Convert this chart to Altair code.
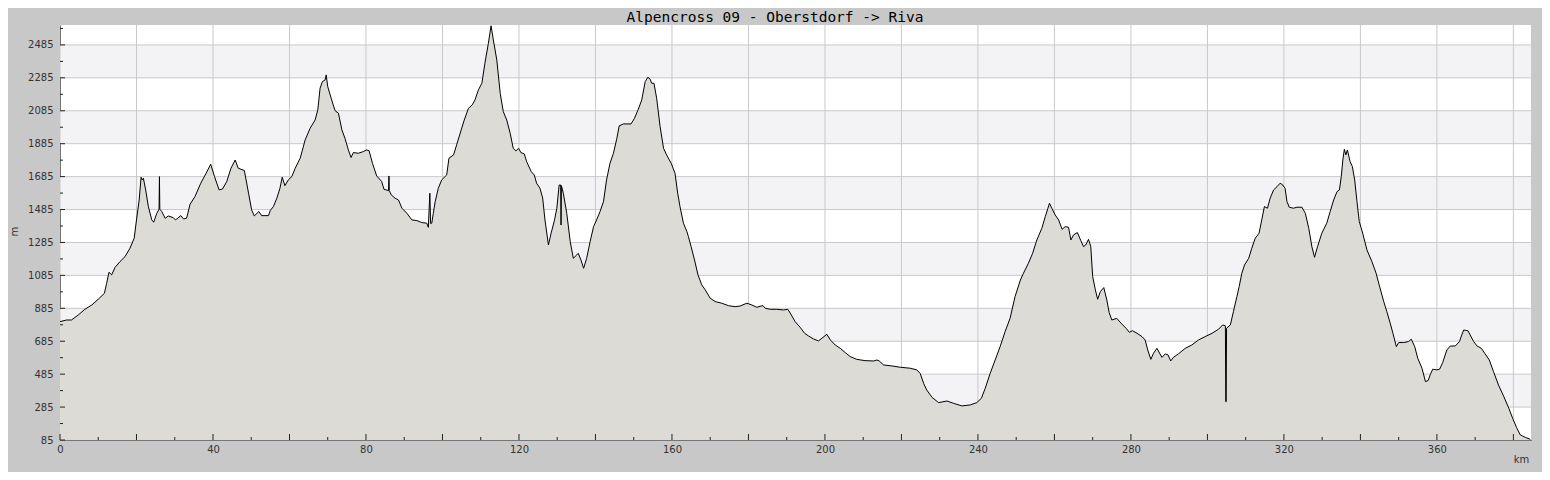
import altair as alt
import pandas as pd

TITLE = "Alpencross 09 - Oberstdorf -> Riva"

km = [0.0, 1.7, 3.0, 4.8, 6.5, 8.3, 10.0, 11.6, 12.2, 12.8, 13.5, 14.4, 15.7, 17.0, 18.3, 19.4,
      20.0, 20.7, 21.2, 21.5, 21.8, 22.4, 23.1, 24.0, 24.5, 25.3, 25.9, 26.0, 26.1, 26.6, 27.5,
      28.3, 29.6, 30.2, 31.6, 32.3, 33.1, 34.0, 35.3, 36.8, 38.1, 39.4, 40.4, 41.6, 42.5, 43.6,
      44.7, 45.8, 46.6, 48.2, 49.3, 50.1, 50.8, 52.0, 52.7, 54.5, 55.0, 55.8, 56.7, 57.5, 58.1,
      58.8, 59.7, 60.6, 61.5, 62.8, 64.1, 65.4, 66.7, 67.4, 68.0, 68.6, 69.3, 69.6, 70.0, 70.9,
      71.9, 72.8, 73.7, 74.5, 75.4, 76.1, 76.7, 78.0, 79.3, 80.2, 80.8, 81.7, 82.8, 84.1, 84.7,
      85.9, 86.0, 86.1, 86.6, 87.6, 88.5, 89.4, 90.7, 92.0, 93.3, 94.6, 95.9, 96.3, 96.7, 96.9,
      97.2, 97.6, 98.1, 98.9, 99.8, 101.1, 101.7, 102.9, 103.7, 104.9, 105.7, 106.8, 107.8,
      108.5, 109.4, 110.3, 111.1, 112.0, 112.7, 113.3, 114.2, 115.1, 115.9, 116.8, 117.7, 118.5,
      119.2, 119.9, 120.5, 121.4, 122.0, 123.2, 124.0, 124.6, 125.5, 126.2, 126.8, 127.7, 128.4,
      129.3, 129.9, 130.5, 130.9, 131.0, 131.1, 131.6, 132.5, 133.4, 134.2, 135.1, 135.5, 136.2,
      136.9, 137.7, 138.6, 139.5, 140.3, 141.2, 142.1, 142.9, 143.8, 144.7, 145.6, 146.2, 147.3,
      149.3, 150.2, 151.2, 152.1, 153.0, 153.7, 154.3, 154.7, 155.3, 156.0, 156.9, 157.8, 158.6,
      159.8, 160.8, 161.5, 162.1, 163.0, 163.9, 164.3, 165.0, 165.9, 166.8, 167.8, 168.7, 170.0,
      171.3, 173.0, 174.8, 176.5, 177.8, 179.6, 180.9, 182.2, 183.3, 183.8, 184.4, 185.7, 187.4,
      189.2, 190.3, 191.2, 192.2, 193.5, 194.7, 195.7, 197.0, 198.3, 199.2, 200.5, 201.4, 202.7,
      204.0, 205.3, 206.6, 208.3, 210.5, 212.7, 213.6, 214.2, 215.3, 217.5, 219.7, 222.3, 224.0,
      224.9, 225.8, 226.6, 228.0, 229.7, 231.9, 233.6, 235.8, 238.0, 239.7, 240.9, 241.9, 243.2,
      244.5, 245.8, 247.1, 248.4, 249.7, 251.1, 251.9, 253.2, 254.3, 255.4, 256.7, 257.6, 258.3,
      258.7, 259.3, 260.2, 261.1, 262.0, 262.8, 263.7, 264.3, 265.0, 266.0, 266.9, 267.6, 268.2,
      268.9, 269.5, 270.0, 270.7, 271.3, 272.0, 272.9, 273.7, 274.3, 275.0, 276.3, 277.6, 278.7,
      279.6, 280.4, 281.6, 282.9, 283.7, 284.4, 285.2, 285.9, 286.8, 288.1, 289.0, 289.7, 290.4,
      291.1, 292.4, 294.2, 295.9, 297.7, 299.4, 301.2, 302.9, 304.0, 304.7, 304.8, 304.9, 305.0,
      306.0, 306.8, 307.7, 308.3, 309.0, 309.7, 310.8, 311.6, 312.5, 313.5, 314.2, 314.9, 315.7,
      316.4, 317.3, 318.2, 319.0, 319.7, 320.3, 320.8, 321.4, 322.5, 323.4, 324.7, 325.6, 326.5,
      327.3, 328.0, 328.8, 329.9, 331.2, 332.1, 333.0, 333.9, 334.5, 335.0, 335.4, 335.8, 336.2,
      336.6, 337.3, 337.9, 338.5, 339.1, 339.7, 340.6, 341.7, 343.0, 344.1, 344.9, 346.1, 346.9,
      347.8, 348.5, 349.4, 350.0, 351.3, 352.6, 353.3, 354.2, 355.0, 356.1, 357.0, 357.7, 358.3,
      358.9, 360.0, 360.7, 361.5, 362.6, 363.5, 364.8, 365.9, 366.4, 367.0, 368.1, 368.7, 369.6,
      370.5, 371.6, 372.5, 373.7, 374.8, 376.1, 377.5, 378.8, 379.8, 380.8, 381.8, 383.1, 384.4]

elev = [804, 814, 814, 845, 879, 905, 940, 976, 1037, 1104, 1088, 1134, 1169, 1199, 1250, 1311,
        1422, 1543, 1681, 1665, 1675, 1604, 1503, 1422, 1408, 1462, 1487, 1685, 1487, 1473, 1432,
        1446, 1436, 1422, 1448, 1428, 1432, 1517, 1564, 1645, 1701, 1760, 1685, 1604, 1610, 1655,
        1736, 1786, 1736, 1722, 1584, 1483, 1446, 1473, 1448, 1448, 1480, 1503, 1554, 1614, 1681,
        1630, 1665, 1685, 1736, 1797, 1908, 1979, 2029, 2090, 2222, 2262, 2272, 2303, 2232, 2161,
        2086, 2070, 1969, 1918, 1847, 1801, 1831, 1827, 1837, 1847, 1843, 1766, 1689, 1655, 1608,
        1600, 1689, 1600, 1574, 1554, 1543, 1493, 1462, 1422, 1418, 1406, 1402, 1377, 1584, 1400,
        1402, 1462, 1533, 1614, 1665, 1695, 1797, 1817, 1878, 1969, 2029, 2100, 2121,
        2151, 2212, 2252, 2374, 2495, 2601, 2515, 2394, 2191, 2080, 2029, 1948, 1857,
        1841, 1857, 1831, 1823, 1776, 1716, 1695, 1645, 1614, 1554, 1422, 1270, 1341,
        1422, 1493, 1634, 1634, 1391, 1630, 1584, 1462, 1290, 1189, 1209, 1219, 1179,
        1128, 1189, 1290, 1381, 1422, 1473, 1533, 1665, 1766, 1827, 1918, 1993, 2005,
        2005, 2039, 2094, 2151, 2262, 2289, 2277, 2252, 2252, 2161, 1989, 1857, 1817,
        1766, 1705, 1584, 1503, 1402, 1351, 1321, 1260, 1179, 1088, 1027, 997, 946,
        926, 916, 901, 895, 899, 916, 905, 891, 899, 901, 885, 879, 879,
        875, 879, 845, 804, 770, 733, 717, 699, 687, 703, 727, 693, 662,
        642, 616, 592, 575, 567, 565, 571, 565, 541, 535, 527, 521, 511,
        490, 429, 389, 344, 312, 322, 308, 292, 298, 312, 338, 399, 490,
        571, 652, 743, 824, 956, 1057, 1098, 1159, 1219, 1300, 1371, 1442, 1493,
        1523, 1493, 1452, 1422, 1365, 1381, 1377, 1300, 1331, 1345, 1296, 1260, 1270,
        1304, 1260, 1078, 997, 940, 986, 1011, 936, 860, 814, 824, 790, 764,
        739, 749, 733, 713, 693, 632, 575, 612, 642, 587, 608, 602, 565,
        587, 608, 642, 662, 693, 713, 733, 758, 784, 778, 318, 318, 764,
        784, 865, 956, 1017, 1098, 1148, 1189, 1250, 1311, 1341, 1422, 1503, 1493,
        1554, 1604, 1624, 1645, 1634, 1614, 1533, 1499, 1493, 1499, 1499, 1462, 1371,
        1260, 1195, 1260, 1341, 1402, 1473, 1543, 1594, 1604, 1685, 1786, 1851, 1817,
        1847, 1776, 1746, 1665, 1533, 1412, 1341, 1240, 1169, 1098, 1027, 926, 865,
        794, 733, 652, 677, 677, 683, 697, 652, 581, 521, 440, 446, 484,
        515, 511, 515, 555, 632, 656, 656, 683, 717, 753, 749, 723, 683,
        656, 642, 612, 571, 500, 419, 348, 278, 217, 162, 116, 101, 89]

y_labels = [85, 285, 485, 685, 885, 1085, 1285, 1485, 1685, 1885, 2085, 2285, 2485]
y_minor = [185, 385, 585, 785, 985, 1185, 1385, 1585, 1785, 1985, 2185, 2385, 2585]
x_major = [0, 20, 40, 60, 80, 100, 120, 140, 160, 180, 200, 220, 240, 260, 280, 300, 320,
           340, 360, 380]
x_minor = [10, 30, 50, 70, 90, 110, 130, 150, 170, 190, 210, 230, 250, 270, 290, 310, 330,
           350, 370]
x_labels = [0, 40, 80, 120, 160, 200, 240, 280, 320, 360]
band_lo = [285, 685, 1085, 1485, 1885, 2285]
band_hi = [485, 885, 1285, 1685, 2085, 2485]

X_DOMAIN = [0, 384.6]
Y_DOMAIN = [85, 2606]

W, H = 1471, 415

prof = pd.DataFrame({"km": km, "m": elev})
bands = pd.DataFrame({"lo": band_lo, "hi": band_hi})
ylab = pd.DataFrame({"v": y_labels})
ymin = pd.DataFrame({"v": y_minor})
xmaj = pd.DataFrame({"v": x_major})
xmin = pd.DataFrame({"v": x_minor})
tdf = pd.DataFrame({"t": [TITLE]})

xs = alt.Scale(domain=X_DOMAIN, nice=False, zero=False)
ys = alt.Scale(domain=Y_DOMAIN, nice=False, zero=False)

ax_x = alt.Axis(values=x_labels, ticks=False, grid=False, domain=True, domainColor="#222",
                domainWidth=1, labelFont="DejaVu Sans", labelFontSize=10, labelColor="#333",
                labelPadding=4, labelFlush=False, labelOverlap=False, format="d",
                title="km", titleFont="DejaVu Sans", titleFontSize=10, titleFontWeight="normal",
                titleColor="#333", titleX=1461, titleY=19, titleAlign="center",
                titleBaseline="middle", titleAngle=0)
ax_y = alt.Axis(values=y_labels, ticks=False, grid=False, domain=True, domainColor="#222",
                domainWidth=1, labelFont="DejaVu Sans", labelFontSize=10, labelColor="#333",
                labelPadding=7, labelFlush=False, labelOverlap=False, format="d",
                title="m", titleFont="DejaVu Sans", titleFontSize=10, titleFontWeight="normal",
                titleColor="#333", titleX=-46, titleY=206, titleAlign="center",
                titleBaseline="middle", titleAngle=270)

X = lambda f: alt.X(f, type="quantitative", scale=xs, axis=ax_x)
Y = lambda f: alt.Y(f, type="quantitative", scale=ys, axis=ax_y)

band_layer = alt.Chart(bands).mark_rect(color="#f3f2f5").encode(
    x=alt.value(0), x2=alt.value(W), y=Y("lo"), y2="hi")
hgrid = alt.Chart(ylab).mark_rule(color="#c9c9c9", strokeWidth=1).encode(y=Y("v"))
vgrid = alt.Chart(xmaj).mark_rule(color="#c9c9c9", strokeWidth=1).encode(x=X("v"))
area = alt.Chart(prof).mark_area(color="#dcdbd6", clip=True).encode(
    x=X("km"), y=Y("m"), y2=alt.datum(85))
line = alt.Chart(prof).mark_line(color="black", strokeWidth=1, clip=True).encode(
    x=X("km"), y=Y("m"))
ytick_major = alt.Chart(ylab).mark_rule(color="#222").encode(
    y=Y("v"), x=alt.value(0), x2=alt.value(5))
ytick_minor = alt.Chart(ymin).mark_rule(color="#222").encode(
    y=Y("v"), x=alt.value(0), x2=alt.value(3))
xtick_major = alt.Chart(xmaj).mark_rule(color="#222").encode(
    x=X("v"), y=alt.value(H), y2=alt.value(H - 6))
xtick_minor = alt.Chart(xmin).mark_rule(color="#222").encode(
    x=X("v"), y=alt.value(H), y2=alt.value(H - 3))
title_layer = alt.Chart(tdf).mark_text(
    font="DejaVu Sans Mono", fontSize=14.5, color="black", align="center",
    baseline="alphabetic").encode(x=alt.value(715), y=alt.value(-3.5), text="t:N")

chart = alt.layer(
    band_layer, hgrid, vgrid, area, line, ytick_major, ytick_minor, xtick_major, xtick_minor,
    title_layer
).properties(
    width=W, height=H,
    padding={"left": 52, "top": 17, "right": 11, "bottom": 32},
    autosize="none",
    background="#c8c8c8",
).configure_view(fill="white", strokeWidth=0)

chart.save("out.html", embed_options={"renderer": "svg", "actions": False})
